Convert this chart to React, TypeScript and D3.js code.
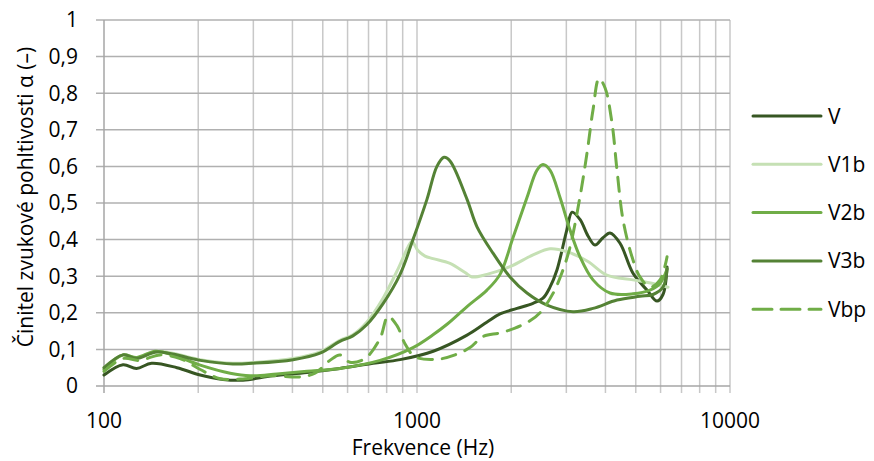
import * as d3 from 'd3';

// frequency (Hz), absorption coefficient
const V_DATA: [number, number][] = [
  [100, 0.03], [115, 0.058], [127, 0.048], [142, 0.062], [171, 0.05], [203, 0.03],
  [240, 0.018], [278, 0.016], [346, 0.028], [445, 0.037], [567, 0.048], [724, 0.062],
  [883, 0.072], [1127, 0.095], [1445, 0.139], [1675, 0.175], [1842, 0.197], [2087, 0.212],
  [2348, 0.226], [2527, 0.24], [2660, 0.27], [2800, 0.317], [3010, 0.426], [3130, 0.475],
  [3317, 0.455], [3518, 0.41], [3704, 0.385], [3929, 0.405], [4137, 0.418], [4453, 0.39],
  [4899, 0.308], [5430, 0.262], [5847, 0.232], [6108, 0.25], [6294, 0.325],
];

const V1B_DATA: [number, number][] = [
  [100, 0.05], [115, 0.085], [127, 0.077], [148, 0.095], [203, 0.072], [258, 0.062],
  [299, 0.064], [402, 0.075], [490, 0.093], [567, 0.125], [624, 0.14], [692, 0.175],
  [779, 0.24], [870, 0.32], [936, 0.38], [964, 0.395], [1007, 0.37], [1061, 0.355],
  [1125, 0.348], [1275, 0.335], [1424, 0.31], [1499, 0.298], [1673, 0.305], [1982, 0.326],
  [2348, 0.358], [2660, 0.375], [3015, 0.367], [3518, 0.34], [4040, 0.303], [4899, 0.29],
  [5675, 0.28], [6340, 0.27],
];

const V2B_DATA: [number, number][] = [
  [100, 0.045], [115, 0.085], [127, 0.078], [146, 0.095], [166, 0.085], [203, 0.057],
  [253, 0.035], [293, 0.028], [357, 0.033], [445, 0.04], [567, 0.048], [762, 0.07],
  [971, 0.105], [1125, 0.14], [1253, 0.17], [1445, 0.217], [1673, 0.262], [1842, 0.305],
  [2026, 0.405], [2246, 0.515], [2418, 0.59], [2527, 0.605], [2660, 0.59], [2864, 0.515],
  [3083, 0.426], [3317, 0.353], [3650, 0.29], [4137, 0.254], [4899, 0.252], [5551, 0.262],
  [5977, 0.28], [6294, 0.32],
];

const V3B_DATA: [number, number][] = [
  [100, 0.05], [115, 0.085], [127, 0.075], [148, 0.093], [203, 0.07], [258, 0.06],
  [299, 0.062], [402, 0.072], [490, 0.09], [567, 0.122], [624, 0.137], [692, 0.168],
  [779, 0.225], [883, 0.305], [971, 0.4], [1076, 0.51], [1158, 0.6], [1220, 0.625],
  [1275, 0.615], [1445, 0.51], [1555, 0.435], [1749, 0.363], [1982, 0.298], [2246, 0.254],
  [2602, 0.221], [3150, 0.203], [3650, 0.212], [4355, 0.235], [5157, 0.245], [5675, 0.25],
  [6108, 0.27], [6294, 0.32],
];

const VBP_DATA: [number, number][] = [
  [100, 0.04], [115, 0.075], [130, 0.07], [151, 0.085], [175, 0.075], [203, 0.045],
  [235, 0.02], [282, 0.02], [339, 0.028], [423, 0.025], [472, 0.035], [527, 0.07],
  [567, 0.085], [610, 0.065], [682, 0.075], [762, 0.13], [808, 0.19], [863, 0.165],
  [916, 0.115], [985, 0.08], [1158, 0.073], [1323, 0.085], [1477, 0.105], [1625, 0.135],
  [1842, 0.145], [2056, 0.158], [2296, 0.178], [2472, 0.2], [2720, 0.253], [2906, 0.31],
  [3083, 0.38], [3317, 0.517], [3492, 0.636], [3650, 0.754], [3815, 0.84], [3987, 0.815],
  [4198, 0.718], [4355, 0.59], [4552, 0.454], [4863, 0.353], [5157, 0.298], [5551, 0.27],
  [5977, 0.29], [6294, 0.353],
];

const SERIES_NAMES = ['V', 'V1b', 'V2b', 'V3b', 'Vbp'];
const SERIES_COLORS = ['#375623', '#c5e0b4', '#70ad47', '#548235', '#70ad47'];
const SERIES_DATA = [V_DATA, V1B_DATA, V2B_DATA, V3B_DATA, VBP_DATA];

const X_TICKS = [100, 1000, 10000];
const Y_TICKS = [0, 0.1, 0.2, 0.3, 0.4, 0.5, 0.6, 0.7, 0.8, 0.9, 1];

const W = 874;
const H = 461;
const FONT = '"Open Sans", sans-serif';

export default function App() {
  const x = d3.scaleLog().domain([100, 10000]).range([104, 730]);
  const y = d3.scaleLinear().domain([0, 1]).range([386, 20]);

  const minorX: number[] = [];
  for (const dec of [100, 1000]) {
    for (let k = 2; k <= 10; k++) minorX.push(dec * k);
  }

  const line = d3.line<[number, number]>()
    .x(d => x(d[0]))
    .y(d => y(d[1]))
    .curve(d3.curveCatmullRom.alpha(0.5));

  const fmt = (v: number) => (v === 0 || v === 1 ? String(v) : v.toFixed(1).replace('.', ','));

  const [y0, y1] = y.range();

  return (
    <svg width={W} height={H} style={{ position: 'absolute', left: 0, top: 0, background: '#fff' }}
      fontFamily={FONT}>
      {/* vertical grid + ticks */}
      {minorX.map(f => (
        <line key={f} x1={x(f)} x2={x(f)} y1={y1} y2={y0 + 7} stroke="#c8c8c8" strokeWidth={1.5} />
      ))}
      {/* horizontal grid + ticks */}
      {Y_TICKS.map(t => (
        <line key={t} x1={x(100) - 8} x2={x(10000)} y1={y(t)} y2={y(t)}
          stroke={t === 0 ? '#a6a6a6' : '#b0b0b0'} strokeWidth={1.5} />
      ))}
      <line x1={x(100)} x2={x(100)} y1={y1} y2={y0 + 7} stroke="#a6a6a6" strokeWidth={1.5} />

      {Y_TICKS.map(t => (
        <text key={t} x={78} y={y(t)} dy="0.35em" textAnchor="end" fontSize={21} fill="#000">{fmt(t)}</text>
      ))}
      {X_TICKS.map(t => (
        <text key={t} x={x(t)} y={428} textAnchor="middle" fontSize={21} fill="#000">{t}</text>
      ))}
      <text x={423} y={455} textAnchor="middle" fontSize={21} fill="#000">Frekvence (Hz)</text>
      <text transform={`translate(33,${(y0 + y1) / 2 - 6}) rotate(-90)`} textAnchor="middle" fontSize={21} fill="#000">
        Činitel zvukové pohltivosti α (–)
      </text>

      {SERIES_DATA.map((data, i) => (
        <path key={SERIES_NAMES[i]} d={line(data) ?? ''} fill="none" stroke={SERIES_COLORS[i]}
          strokeWidth={3} strokeLinejoin="round"
          strokeLinecap="round"
          strokeDasharray={SERIES_NAMES[i] === 'Vbp' ? '14 10' : undefined} />
      ))}

      {SERIES_NAMES.map((name, i) => {
        const ly = 116 + i * 48.3;
        return (
          <g key={name}>
            <line x1={753} x2={821} y1={ly} y2={ly} stroke={SERIES_COLORS[i]} strokeWidth={3}
              strokeLinecap="round" strokeDasharray={name === 'Vbp' ? '19 9' : undefined} />
            <text x={828} y={ly} dy="0.36em" fontSize={21} fill="#000">{name}</text>
          </g>
        );
      })}
    </svg>
  );
}
